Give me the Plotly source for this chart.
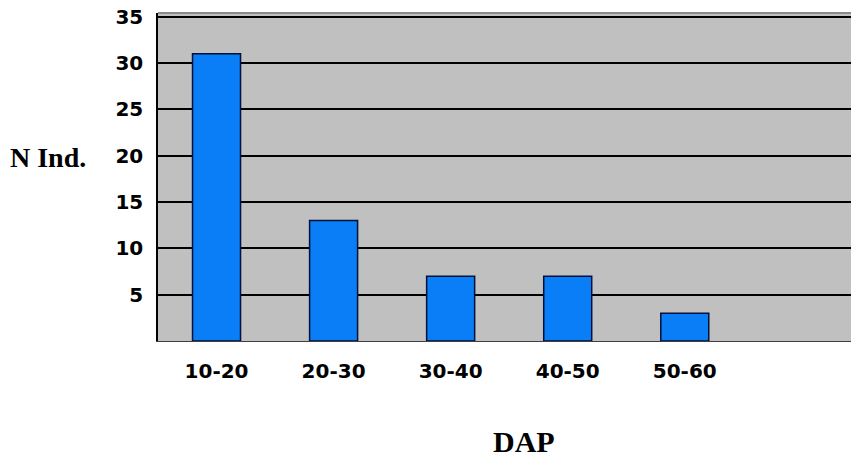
import plotly.graph_objects as go

categories = ["10-20", "20-30", "30-40", "40-50", "50-60"]
values = [31, 13, 7, 7, 3]
y_ticks = [5, 10, 15, 20, 25, 30, 35]

x_pos = list(range(len(categories)))

W, H = 853, 457
L, R, T, B = 158, 2, 13, 457 - 341
pw, ph = W - L - R, H - T - B


def px(x):
    return (x - L) / pw


def py(y):
    return (H - B - y) / ph


fig = go.Figure()
fig.add_trace(go.Bar(
    x=x_pos, y=values, width=0.41,
    marker=dict(color="#0a7ef7", line=dict(color="#00103a", width=1.5)),
    hoverinfo="x+y",
))

tick_font = dict(family="DejaVu Sans", size=20, color="black", weight="bold")

fig.update_layout(
    width=W, height=H,
    margin=dict(l=L, r=R, t=T, b=B, pad=0),
    paper_bgcolor="white",
    plot_bgcolor="#c0c0c0",
    showlegend=False,
    xaxis=dict(
        range=[-0.5, 5.42],
        tickvals=x_pos, ticktext=categories,
        showgrid=False, zeroline=False,
        showline=True, linecolor="#404040", linewidth=1,
        ticks="outside", ticklen=12, tickcolor="rgba(0,0,0,0)",
        tickfont=tick_font,
        automargin=False,
    ),
    yaxis=dict(
        range=[0, 35.4],
        tickvals=y_ticks,
        showgrid=True, gridcolor="black", gridwidth=1.5,
        zeroline=False,
        showline=True, linecolor="black", linewidth=1.5,
        ticks="outside", ticklen=9, tickcolor="rgba(0,0,0,0)",
        tickfont=tick_font,
        ticklabeloverflow="allow",
        automargin=False,
    ),
    annotations=[
        dict(text="N Ind.", x=px(8), y=py(158), xref="paper", yref="paper",
             showarrow=False, font=dict(family="Liberation Serif", size=28, color="black", weight="bold"),
             xanchor="left", yanchor="middle"),
        dict(text="DAP", x=px(524), y=py(441), xref="paper", yref="paper",
             showarrow=False, font=dict(family="Liberation Serif", size=30, color="black", weight="bold"),
             xanchor="center", yanchor="middle"),
    ],
)

fig.add_shape(type="line", xref="paper", yref="paper", x0=0, x1=1, y0=1, y1=1,
              line=dict(color="#8a8a8a", width=2))

fig.write_html("out.html", config={"displayModeBar": False},
               post_script="document.body.style.margin='0';")
